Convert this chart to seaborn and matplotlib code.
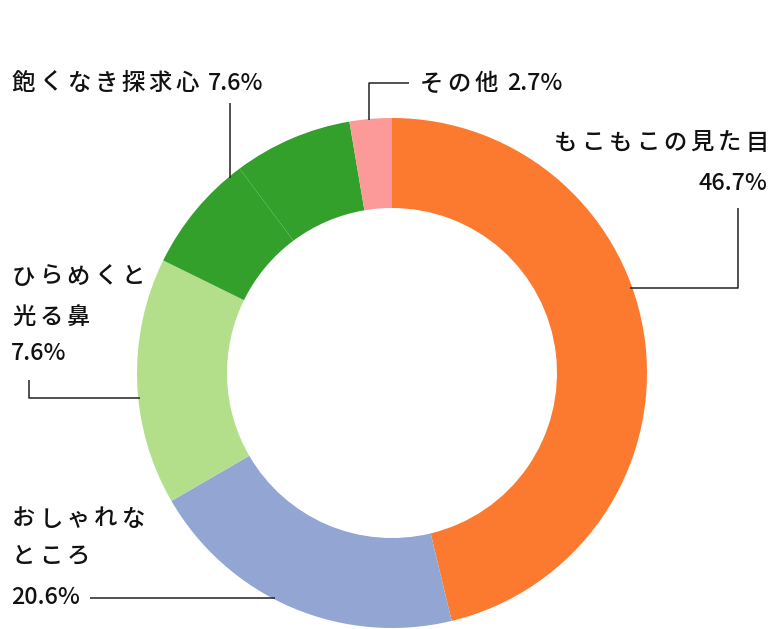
import matplotlib
matplotlib.use("Agg")
import matplotlib.pyplot as plt
import seaborn as sns

# ---- data ----
slice_names = ["もこもこの見た目", "おしゃれなところ", "ひらめくと光る鼻",
               "飽くなき探求心", "飽くなき探求心(2)", "その他"]
slice_values = [46.7, 20.6, 15.8, 7.6, 7.6, 2.7]
slice_colors = ["#fb7a2f", "#93a5d2", "#b3df8b", "#34a02c", "#34a02c", "#fb9a99"]

# label text lines (name parts) and percentages
label_mokomoko = ["もこもこの見た目"]
pct_mokomoko = "46.7%"
label_oshare = ["おしゃれな", "ところ"]
pct_oshare = "20.6%"
label_hirameku = ["ひらめくと", "光る鼻"]
pct_hirameku = "7.6%"
label_akunaki = ["飽くなき探求心"]
pct_akunaki = "7.6%"
label_sonota = ["その他"]
pct_sonota = "2.7%"

sns.set_theme(style="white")
FAM = ["Noto Sans CJK JP", "DejaVu Sans"]
plt.rcParams["font.family"] = FAM

W, H = 779, 629
FS = 16.8
WEIGHT = "medium"
PITCH = 27.3
fig = plt.figure(figsize=(W / 100, H / 100), dpi=100)
ax = fig.add_axes([0, 0, 1, 1])

ax.pie(slice_values, colors=slice_colors, startangle=90, counterclock=False,
       radius=255, center=(392, H - 373),
       wedgeprops=dict(width=90, linewidth=0, antialiased=True))
ax.set_xlim(0, W)
ax.set_ylim(0, H)
ax.set_aspect("equal")
ax.axis("off")


def spaced(x, y, s, pitch=PITCH):
    for i, ch in enumerate(s):
        ax.text(x + i * pitch, H - y, ch, fontsize=FS, ha="left", va="center",
                family=FAM, weight=WEIGHT, color="#111111")


def plain(x, y, s, ha="left"):
    ax.text(x, H - y, s, fontsize=FS, ha=ha, va="center", family=FAM,
            weight=WEIGHT, color="#111111")


def line(xs, ys):
    ax.plot(xs, [H - v for v in ys], color="#222222", lw=1.1,
            solid_capstyle="butt")


# 飽くなき探求心
spaced(12, 83, label_akunaki[0])
plain(208, 83, pct_akunaki)
line([230, 230], [103, 178])

# その他
spaced(420, 84, label_sonota[0])
plain(507, 84, pct_sonota)
line([369, 369, 409], [120, 83, 83])

# もこもこの見た目
spaced(554, 143, label_mokomoko[0])
plain(767, 183, pct_mokomoko, ha="right")
line([630, 738, 738], [288, 288, 208])

# ひらめくと光る鼻
spaced(12, 277, label_hirameku[0])
spaced(12, 317, label_hirameku[1])
plain(11, 354, pct_hirameku)
line([29, 29, 140], [380, 398, 398])

# おしゃれなところ
spaced(12, 519, label_oshare[0])
spaced(12, 557, label_oshare[1])
plain(11, 598, pct_oshare)
line([90, 275], [598, 598])

fig.savefig("out.png", dpi=100, facecolor="white")
